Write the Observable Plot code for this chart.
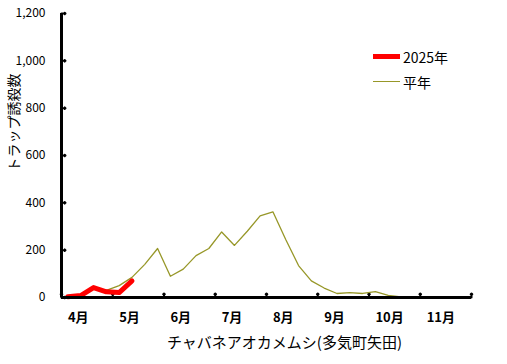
<!DOCTYPE html>
<html>
<head>
<meta charset="utf-8">
<script src="https://cdn.jsdelivr.net/npm/d3@7"></script>
<script src="https://cdn.jsdelivr.net/npm/@observablehq/plot@0.6"></script>
<style>
  html, body { margin: 0; padding: 0; background: #fff; }
  #wrap { position: relative; width: 507px; height: 364px; font-family: "Noto Sans CJK JP", sans-serif; }
  #legend { position: absolute; left: 373px; top: 44px; font-size: 14px; color: #000; }
  .lg { display: flex; align-items: center; height: 25px; }
  .sw { width: 27px; margin-right: 3px; }
</style>
</head>
<body>
<div id="wrap"></div>
<script>
// ---- data ----
const months = ["4月", "5月", "6月", "7月", "8月", "9月", "10月", "11月"];
const periodsPerMonth = 4;
const normalValues = [2, 8, 35, 30, 50, 85, 140, 207, 90, 120, 177, 207, 277, 220, 280, 345,
                      362, 245, 135, 70, 40, 17, 21, 17, 25, 9, 3, 2, 2, 1, 1, 1];
const values2025 = [3, 8, 42, 24, 21, 70];
const yTicks = [0, 200, 400, 600, 800, 1000, 1200];
const seriesNames = ["2025年", "平年"];
const yTitle = "トラップ誘殺数";
const xTitle = "チャバネアオカメムシ(多気町矢田)";

const colors = {"2025年": "#ff0000", "平年": "#979728"};

const nPeriods = months.length * periodsPerMonth;
const normalData = normalValues.map((v, i) => ({x: i + 0.5, y: v}));
const data2025 = values2025.map((v, i) => ({x: i + 0.5, y: v}));
const monthEdges = d3.range(0, nPeriods + 1, periodsPerMonth);
const monthLabels = months.map((m, i) => ({x: i * periodsPerMonth + 0.5, label: m}));

const fmt = d3.format(",");

const chart = Plot.plot({
  width: 507,
  height: 364,
  marginLeft: 61,
  marginRight: 36,
  marginTop: 13,
  marginBottom: 67,
  style: {fontFamily: "\"Noto Sans CJK JP\", sans-serif", background: "#fff", color: "#000"},
  x: {domain: [0, nPeriods], axis: null},
  y: {domain: [0, 1200], axis: null},
  marks: [
    // y tick labels
    Plot.axisY({ticks: yTicks, tickFormat: fmt, tickSize: 0, tickPadding: 16, fontSize: 12, label: null}),
    // inward y ticks
    Plot.vector(yTicks, {x: 0, y: d => d, length: 4, rotate: 90, anchor: "start", stroke: "#000", strokeWidth: 2}),
    // upward x ticks at month boundaries
    Plot.vector(monthEdges, {x: d => d, y: 0, length: 4, rotate: 0, anchor: "start", stroke: "#000", strokeWidth: 2}),
    // x month labels
    Plot.text(monthLabels, {x: "x", y: 0, text: "label", dy: 20, textAnchor: "start", lineAnchor: "middle", fontSize: 13, fontWeight: "bold", fill: "#000"}),
    // series
    Plot.line(normalData, {x: "x", y: "y", stroke: colors["平年"], strokeWidth: 1.3}),
    Plot.line(data2025, {x: "x", y: "y", stroke: colors["2025年"], strokeWidth: 5, strokeLinejoin: "round", strokeLinecap: "round"}),
    // axis lines
    Plot.ruleX([0], {stroke: "#000", strokeWidth: 3}),
    Plot.ruleY([0], {stroke: "#000", strokeWidth: 3}),
    // titles
    Plot.text([yTitle], {frameAnchor: "left", dx: -47, dy: -33, rotate: -90, textAnchor: "middle", lineAnchor: "middle", fontSize: 14, fill: "#000"}),
    Plot.text([xTitle], {frameAnchor: "bottom", dx: 18, dy: 46, textAnchor: "middle", lineAnchor: "middle", fontSize: 15, fill: "#000"})
  ]
});

const wrap = document.getElementById("wrap");
wrap.appendChild(chart);

const legend = document.createElement("div");
legend.id = "legend";
seriesNames.forEach(name => {
  const row = document.createElement("div");
  row.className = "lg";
  const sw = document.createElement("div");
  sw.className = "sw";
  sw.style.borderTop = (name === "2025年" ? "5px" : "1.5px") + " solid " + colors[name];
  const t = document.createElement("span");
  t.textContent = name;
  row.appendChild(sw);
  row.appendChild(t);
  legend.appendChild(row);
});
wrap.appendChild(legend);
</script>
</body>
</html>
